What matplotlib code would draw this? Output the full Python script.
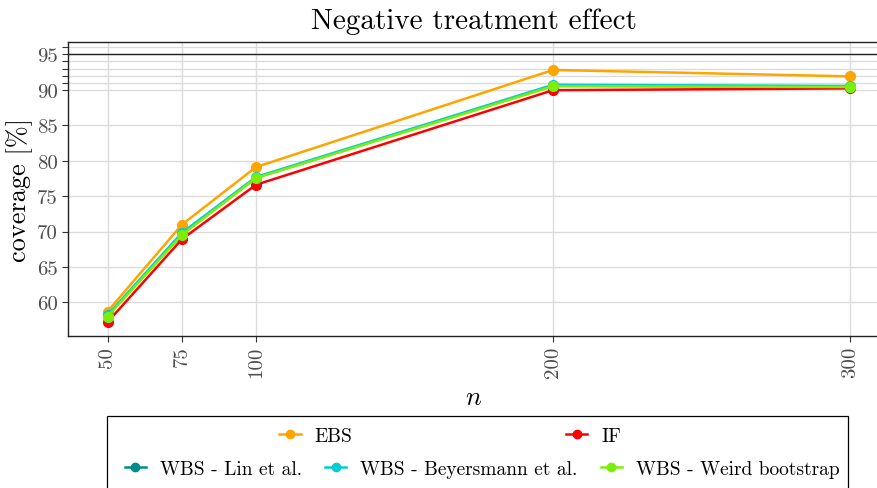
import matplotlib
matplotlib.use("Agg")
import matplotlib.pyplot as plt
from matplotlib.patches import Rectangle
from matplotlib.lines import Line2D

plt.rcParams['font.family'] = 'serif'
plt.rcParams['font.serif'] = ['cmr10']
plt.rcParams['mathtext.fontset'] = 'cm'
plt.rcParams['axes.unicode_minus'] = False

n_values = [50, 75, 100, 200, 300]
ebs = [58.7, 70.95, 79.1, 92.8, 91.9]
if_vals = [57.2, 68.9, 76.6, 89.95, 90.2]
wbs_lin = [58.1, 69.6, 77.6, 90.6, 90.45]
wbs_beyersmann = [58.2, 69.8, 77.7, 90.7, 90.55]
wbs_weird = [58.0, 69.5, 77.55, 90.5, 90.4]
y_major = [60, 65, 70, 75, 80, 85, 90, 95]
y_minor = [91, 92, 93, 94, 96]
nominal = 95

series = [
    ("EBS", ebs, "#FFA500"),
    ("IF", if_vals, "#FF0000"),
    ("WBS - Lin et al.", wbs_lin, "#008B8B"),
    ("WBS - Beyersmann et al.", wbs_beyersmann, "#00CED1"),
    ("WBS - Weird bootstrap", wbs_weird, "#7CEE0A"),
]

fig = plt.figure(figsize=(8.78, 4.89), dpi=100)
ax = fig.add_axes([68/878, 1 - 337/489, 1 - 68/878 + 0.002, (337 - 43)/489])

grid_c = "#DCDCDC"
for v in y_major + y_minor:
    ax.axhline(v, color=grid_c, lw=1.0, zorder=0)
for v in n_values:
    ax.axvline(v, color=grid_c, lw=1.0, zorder=0)
ax.axhline(nominal, color="#222222", lw=1.0, zorder=1)

for label, vals, c in series:
    ax.plot(n_values, vals, color=c, lw=1.8, marker='o', ms=7, label=label, zorder=3)

ax.set_xlim(36.7, 310)
ax.set_ylim(55.25, 96.75)
ax.set_xticks(n_values)
ax.set_xticklabels([str(v) for v in n_values], rotation=90)
ax.set_yticks(y_major)
ax.set_yticks(y_minor, minor=True)
ax.tick_params(axis='both', which='both', colors="#333333", labelcolor="#4D4D4D",
               labelsize=15, length=4, width=0.8)
ax.tick_params(axis='x', pad=3)
for s in ['left', 'bottom', 'top']:
    ax.spines[s].set_color("#222222")
    ax.spines[s].set_linewidth(1.0)
ax.spines['right'].set_visible(False)

ax.set_ylabel("coverage [%]", fontsize=19, labelpad=3)
ax.set_xlabel("$n$", fontsize=19, labelpad=6)
fig.text(0.54, 0.955, "Negative treatment effect", ha='center', va='center', fontsize=21)

# legend box
fig.patches.append(Rectangle((107/878, -0.1), (848 - 107)/878, 0.1 + (489 - 417)/489,
                             transform=fig.transFigure, fill=False, edgecolor='black', lw=0.9))

def handle(c):
    return Line2D([], [], color=c, lw=1.8, marker='o', ms=6)

h1 = [handle(series[0][2]), handle(series[1][2])]
l1 = [series[0][0], series[1][0]]
fig.legend(h1, l1, ncol=2, frameon=False, loc='center', bbox_to_anchor=(450/878, 1 - 437/489),
           fontsize=14, columnspacing=11.0, handlelength=1.1, handletextpad=0.7)
h2 = [handle(s[2]) for s in series[2:]]
l2 = [s[0] for s in series[2:]]
fig.legend(h2, l2, ncol=3, frameon=False, loc='center', bbox_to_anchor=(482/878, 1 - 470/489),
           fontsize=14, columnspacing=1.2, handlelength=1.1, handletextpad=0.7)

fig.savefig("out.png", dpi=100)
